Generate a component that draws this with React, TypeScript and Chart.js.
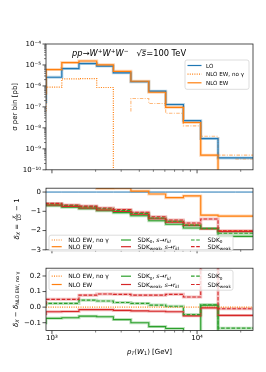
import React, { useEffect, useRef } from 'react';
import { Chart, registerables } from 'chart.js';

Chart.register(...registerables);

// ---------------- data ----------------
const binEdges = [910, 1170, 1535, 2035, 2650, 3500, 4650, 6080, 8050, 10600, 13950, 18370, 24300];
const xTickValues = [1000, 10000];
const xTickLabels = ['10³', '10⁴'];
const xMinorTickValues = [2000, 3000, 4000, 5000, 6000, 7000, 8000, 9000, 20000];

const sigmaTickValues = [1e-4, 1e-5, 1e-6, 1e-7, 1e-8, 1e-9, 1e-10];
const sigmaTickLabels = ['10⁻⁴', '10⁻⁵', '10⁻⁶', '10⁻⁷', '10⁻⁸', '10⁻⁹', '10⁻¹⁰'];
const deltaTickValues = [0, -1, -2, -3];
const deltaTickLabels = ['0', '−1', '−2', '−3'];
const diffTickValues = [0.2, 0.1, 0, -0.1];
const diffTickLabels = ['0.2', '0.1', '0.0', '−0.1'];

// top panel: sigma per bin [pb]
const sigmaLO = [1.5e-7, 2.6e-6, 6.7e-6, 1.17e-5, 8.9e-6, 4.2e-6, 1.6e-6, 5.6e-7, 1.3e-7, 2.2e-8, 3.1e-9, 3.7e-10];
const sigmaNLO = [3.9e-7, 6.0e-6, 1.3e-5, 1.55e-5, 1.02e-5, 5.0e-6, 1.67e-6, 5.0e-7, 9.5e-8, 1.8e-8, 5.0e-10, -3.3e-10];
const sigmaNLOnoPhoton = [6.2e-8, 8.7e-7, 2.15e-6, 2.25e-6, 8.4e-7, -6.0e-8, -2.5e-7, -1.45e-7, -5.0e-8, -1.25e-8, -4.0e-9, -5.0e-10];

// middle panel: delta_X = X/LO - 1
const deltaLO = [0, 0, 0, 0, 0, 0, 0, 0, 0, 0, 0, 0];
const deltaNLO = [1.57, 1.34, 0.92, 0.32, 0.19, 0.2, 0.05, -0.1, -0.29, -0.2, -1.2, -1.25];
const deltaNLOnoPhoton = [-0.57, -0.64, -0.72, -0.81, -0.91, -0.99, -1.13, -1.36, -1.53, -1.67, -1.9, -2.0];
const deltaSDK0sr = [-0.68, -0.71, -0.79, -0.87, -0.97, -1.07, -1.23, -1.49, -1.67, -1.87, -1.89, -2.3];
const deltaSDKweakSr = [-0.62, -0.67, -0.75, -0.83, -0.93, -1.01, -1.15, -1.39, -1.56, -1.73, -1.91, -2.05];
const deltaSDK0 = [-0.56, -0.62, -0.7, -0.77, -0.87, -0.96, -1.11, -1.35, -1.52, -1.72, -1.89, -2.14];
const deltaSDKweak = [-0.55, -0.59, -0.67, -0.73, -0.83, -0.91, -1.05, -1.28, -1.45, -1.61, -1.4, -2.01];

// bottom panel: delta_X - delta_NLO EW, no photon
const diffNLOnoPhoton = [0, 0, 0, 0, 0, 0, 0, 0, 0, 0, 0, 0];
const diffNLO = [2.1, 2.0, 1.6, 1.1, 1.1, 1.2, 1.2, 1.3, 1.2, 1.5, 0.7, 0.75];
const diffSDK0sr = [-0.11, -0.072, -0.068, -0.058, -0.062, -0.08, -0.1, -0.125, -0.137, -0.2, 0.012, -0.3];
const diffSDKweakSr = [-0.052, -0.03, -0.028, -0.016, -0.016, -0.021, -0.024, -0.026, -0.03, -0.056, -0.005, -0.053];
const diffSDK0 = [0.006, 0.024, 0.024, 0.045, 0.039, 0.03, 0.024, 0.013, 0.006, -0.048, 0.015, -0.135];
const diffSDKweak = [0.017, 0.05, 0.05, 0.077, 0.084, 0.082, 0.077, 0.077, 0.082, 0.065, 0.5, -0.01];

// ---------------- style ----------------
const FAM = '"DejaVu Sans", "Liberation Sans", sans-serif';
const COL = { blue: '#1f77b4', orange: '#ff7f0e', green: '#2ca02c', red: '#d62728' };
const LIGHT = {
  blue: 'rgba(31,119,180,0.3)',
  orange: 'rgba(255,127,14,0.3)',
  green: 'rgba(44,160,44,0.3)',
  red: 'rgba(214,39,40,0.3)',
};
const DOT = [1, 1.3];
const DASH = [3.6, 1.6];
const DASHDOT = [3.5, 1.4, 1, 1.4];

Chart.defaults.font.family = FAM;
Chart.defaults.color = '#000';

// ---------------- helpers ----------------
const steps = (vals: (number | null)[]) => [
  ...vals.map((v, i) => ({ x: binEdges[i], y: v })),
  { x: binEdges[vals.length], y: vals[vals.length - 1] },
];
const logPlot = (vals: number[]) => vals.map((v) => (v > 0 ? v : 1e-14));
const negAbs = (vals: number[]) => vals.map((v) => (v < 0 ? -v : null));

function line(vals: (number | null)[], color: string, dash: number[] = [], width = 1.1, order = 0) {
  return {
    data: steps(vals),
    borderColor: color,
    borderDash: dash,
    borderWidth: width,
    stepped: 'after',
    pointRadius: 0,
    fill: false,
    spanGaps: false,
    order,
  };
}
const band = (vals: (number | null)[], color: string) => line(vals, color, [], 3, 2);

type Seg = { t?: string; it?: boolean; sub?: boolean; sup?: boolean; over?: boolean; frac?: [string, string] };

function segFont(s: Seg, size: number) {
  const sz = s.sub || s.sup ? size * 0.7 : size;
  return `${s.it ? 'italic ' : ''}${sz}px ${FAM}`;
}
function segWidth(ctx: any, s: Seg, size: number) {
  if (s.frac) {
    ctx.font = `${size * 0.7}px ${FAM}`;
    return Math.max(ctx.measureText(s.frac[0]).width, ctx.measureText(s.frac[1]).width) + size * 0.3;
  }
  ctx.font = segFont(s, size);
  return ctx.measureText(s.t || '').width;
}
function drawRich(ctx: any, segs: Seg[], x: number, y: number, size: number, align: 'left' | 'center' = 'left', color = '#000') {
  const widths = segs.map((s) => segWidth(ctx, s, size));
  const total = widths.reduce((a, b) => a + b, 0);
  let cx = align === 'center' ? x - total / 2 : x;
  const base = y + size * 0.36;
  ctx.fillStyle = color;
  ctx.textAlign = 'left';
  ctx.textBaseline = 'alphabetic';
  segs.forEach((s, i) => {
    const w = widths[i];
    if (s.frac) {
      const fs = size * 0.7;
      ctx.font = `${fs}px ${FAM}`;
      const mid = base - size * 0.3;
      const n = ctx.measureText(s.frac[0]).width;
      const d = ctx.measureText(s.frac[1]).width;
      ctx.font = `italic ${fs}px ${FAM}`;
      ctx.fillText(s.frac[0], cx + (w - n) / 2, mid - fs * 0.25);
      ctx.font = `${fs}px ${FAM}`;
      ctx.fillText(s.frac[1], cx + (w - d) / 2, mid + fs * 0.9);
      ctx.fillRect(cx + size * 0.1, mid - 0.3, w - size * 0.2, 0.6);
    } else {
      ctx.font = segFont(s, size);
      const dy = s.sub ? size * 0.2 : s.sup ? -size * 0.38 : 0;
      ctx.fillText(s.t || '', cx, base + dy);
      if (s.over) ctx.fillRect(cx - 0.5, base - size * 0.82, w + 0.5, 0.6);
    }
    cx += w;
  });
}
function drawRotated(ctx: any, segs: Seg[], cx: number, cy: number, size: number) {
  ctx.save();
  ctx.translate(cx, cy);
  ctx.rotate(-Math.PI / 2);
  drawRich(ctx, segs, 0, 0, size, 'center');
  ctx.restore();
}
function legendBox(ctx: any, x: number, y: number, w: number, h: number) {
  ctx.save();
  ctx.beginPath();
  const r = 2;
  ctx.moveTo(x + r, y);
  ctx.lineTo(x + w - r, y);
  ctx.arcTo(x + w, y, x + w, y + r, r);
  ctx.lineTo(x + w, y + h - r);
  ctx.arcTo(x + w, y + h, x + w - r, y + h, r);
  ctx.lineTo(x + r, y + h);
  ctx.arcTo(x, y + h, x, y + h - r, r);
  ctx.lineTo(x, y + r);
  ctx.arcTo(x, y, x + r, y, r);
  ctx.closePath();
  ctx.fillStyle = 'rgba(255,255,255,0.8)';
  ctx.fill();
  ctx.strokeStyle = '#d4d4d4';
  ctx.lineWidth = 0.8;
  ctx.stroke();
  ctx.restore();
}
function legendItem(ctx: any, x: number, y: number, len: number, color: string, dash: number[], segs: Seg[], textX: number, size: number) {
  ctx.save();
  ctx.strokeStyle = color;
  ctx.lineWidth = 1.2;
  ctx.setLineDash(dash);
  ctx.beginPath();
  ctx.moveTo(x, y);
  ctx.lineTo(x + len, y);
  ctx.stroke();
  ctx.restore();
  drawRich(ctx, segs, textX, y, size, 'left');
}

const LBL_SDK0SR: Seg[] = [{ t: 'SDK' }, { t: '0', sub: true }, { t: ', ' }, { t: 's', it: true }, { t: '→' }, { t: 'r', it: true }, { t: 'kl', it: true, sub: true }];
const LBL_SDKWSR: Seg[] = [{ t: 'SDK' }, { t: 'weak', sub: true }, { t: ', ' }, { t: 's', it: true }, { t: '→' }, { t: 'r', it: true }, { t: 'kl', it: true, sub: true }];
const LBL_SDK0: Seg[] = [{ t: 'SDK' }, { t: '0', sub: true }];
const LBL_SDKW: Seg[] = [{ t: 'SDK' }, { t: 'weak', sub: true }];
const LBL_NOG: Seg[] = [{ t: 'NLO EW, no γ' }];
const LBL_NLO: Seg[] = [{ t: 'NLO EW' }];

function sixLegend(ctx: any, left: number, top: number, h: number, r1o: number, r2o: number) {
  const size = 6;
  legendBox(ctx, left, top, 184, h);
  const r1 = top + r1o;
  const r2 = top + r2o;
  const c = [left + 2.7, left + 72, left + 142];
  const L = 10;
  const T = 16.5;
  legendItem(ctx, c[0], r1, L, COL.orange, DOT, LBL_NOG, c[0] + T, size);
  legendItem(ctx, c[0], r2, L, COL.orange, [], LBL_NLO, c[0] + T, size);
  legendItem(ctx, c[1], r1, L, COL.green, [], LBL_SDK0SR, c[1] + T, size);
  legendItem(ctx, c[1], r2, L, COL.red, [], LBL_SDKWSR, c[1] + T, size);
  legendItem(ctx, c[2], r1, L, COL.green, DASH, LBL_SDK0, c[2] + T, size);
  legendItem(ctx, c[2], r2, L, COL.red, DASH, LBL_SDKW, c[2] + T, size);
}

type PanelOpts = {
  datasets: any[];
  yType: 'logarithmic' | 'linear';
  yMin: number;
  yMax: number;
  yTicks: number[];
  yLabels: string[];
  padTop: number;
  padBottom: number;
  showX: boolean;
  xHeight: number;
  decorate: (chart: any) => void;
};

function makeConfig(p: PanelOpts): any {
  const tickFont = { size: 7, family: FAM };
  return {
    type: 'line',
    data: { datasets: p.datasets },
    options: {
      animation: false,
      responsive: false,
      maintainAspectRatio: false,
      devicePixelRatio: 1,
      events: [],
      layout: { padding: { left: 0, right: 13, top: p.padTop, bottom: p.padBottom } },
      plugins: { legend: { display: false }, tooltip: { enabled: false }, title: { display: false } },
      scales: {
        x: {
          type: 'logarithmic',
          bounds: 'data',
          min: binEdges[0],
          max: binEdges[binEdges.length - 1],
          display: p.showX,
          grid: { display: false, drawTicks: false },
          border: { display: false },
          afterBuildTicks: (s: any) => {
            s.ticks = xTickValues.map((v) => ({ value: v }));
          },
          afterFit: (s: any) => {
            s.height = p.xHeight;
          },
          ticks: {
            autoSkip: false,
            maxRotation: 0,
            minRotation: 0,
            padding: 3,
            font: tickFont,
            color: '#000',
            callback: (_v: any, i: number) => xTickLabels[i],
          },
        },
        y: {
          type: p.yType,
          bounds: 'data',
          min: p.yMin,
          max: p.yMax,
          grid: { display: false, drawTicks: false },
          border: { display: false },
          afterBuildTicks: (s: any) => {
            s.ticks = p.yTicks.map((v) => ({ value: v }));
          },
          afterFit: (s: any) => {
            s.width = 46;
          },
          ticks: {
            autoSkip: false,
            padding: 5,
            font: tickFont,
            color: '#000',
            callback: (_v: any, i: number) => p.yLabels[i],
          },
        },
      },
    },
    plugins: [
      {
        id: 'axesDecor',
        afterDatasetsDraw(chart: any) {
          const { ctx, chartArea: a, scales } = chart;
          const xs = scales.x;
          const ys = scales.y;
          ctx.save();
          ctx.setLineDash([]);
          ctx.strokeStyle = '#262626';
          ctx.lineWidth = 0.8;
          ctx.strokeRect(a.left, a.top, a.right - a.left, a.bottom - a.top);
          ctx.beginPath();
          for (const v of xTickValues) {
            const px = xs.getPixelForValue(v);
            ctx.moveTo(px, a.bottom);
            ctx.lineTo(px, a.bottom + 3.5);
          }
          for (const v of p.yTicks) {
            const py = ys.getPixelForValue(v);
            ctx.moveTo(a.left, py);
            ctx.lineTo(a.left - 3.5, py);
          }
          ctx.stroke();
          ctx.lineWidth = 0.6;
          ctx.beginPath();
          for (const v of xMinorTickValues) {
            const px = xs.getPixelForValue(v);
            ctx.moveTo(px, a.bottom);
            ctx.lineTo(px, a.bottom + 2);
          }
          if (p.yType === 'logarithmic') {
            for (let d = -10; d < -4; d++) {
              for (let k = 2; k <= 9; k++) {
                const v = k * Math.pow(10, d);
                if (v < p.yMin || v > p.yMax) continue;
                const py = ys.getPixelForValue(v);
                ctx.moveTo(a.left, py);
                ctx.lineTo(a.left - 2, py);
              }
            }
          }
          ctx.stroke();
          ctx.restore();
        },
        afterDraw(chart: any) {
          p.decorate(chart);
        },
      },
    ],
  };
}

// ---------------- panel configs ----------------
function topConfig() {
  return makeConfig({
    datasets: [
      line(logPlot(sigmaNLO), COL.orange, [], 1.2, 0),
      line(logPlot(sigmaNLOnoPhoton), COL.orange, DOT, 1.2, 0),
      line(sigmaLO, COL.blue, [], 1.2, 0),
      line(negAbs(sigmaNLOnoPhoton), 'rgba(255,127,14,0.55)', DASHDOT, 1.1, 1),
      line(negAbs(sigmaNLO), 'rgba(255,127,14,0.55)', DASHDOT, 1.1, 1),
      band(logPlot(sigmaNLO), LIGHT.orange),
      band(sigmaLO, LIGHT.blue),
    ],
    yType: 'logarithmic',
    yMin: 1e-10,
    yMax: 1e-4,
    yTicks: sigmaTickValues,
    yLabels: sigmaTickLabels,
    padTop: 44,
    padBottom: 9,
    showX: false,
    xHeight: 0,
    decorate: (chart: any) => {
      const { ctx, chartArea: a } = chart;
      drawRich(
        ctx,
        [
          { t: 'pp', it: true },
          { t: '→' },
          { t: 'W', it: true },
          { t: '+', sup: true },
          { t: 'W', it: true },
          { t: '+', sup: true },
          { t: 'W', it: true },
          { t: '−', sup: true },
          { t: '   ' },
          { t: '√' },
          { t: 's', it: true, over: true },
          { t: '=100 TeV' },
        ],
        72,
        a.top + 9.5,
        8.3,
        'left'
      );
      drawRotated(ctx, [{ t: 'σ per bin [pb]' }], 14, (a.top + a.bottom) / 2, 7);
      const bx = 185;
      const by = a.top + 16;
      legendBox(ctx, bx, by, 64, 29.3);
      legendItem(ctx, bx + 2.5, by + 5.5, 14, COL.blue, [], [{ t: 'LO' }], bx + 21, 5.6);
      legendItem(ctx, bx + 2.5, by + 14.2, 14, COL.orange, DOT, LBL_NOG, bx + 21, 5.6);
      legendItem(ctx, bx + 2.5, by + 22.8, 14, COL.orange, [], LBL_NLO, bx + 21, 5.6);
    },
  });
}

function midConfig() {
  return makeConfig({
    datasets: [
      line(deltaSDKweak, COL.red, DASH),
      line(deltaSDK0, COL.green, DASH),
      line(deltaSDKweakSr, COL.red, []),
      line(deltaSDK0sr, COL.green, []),
      line(deltaNLO, COL.orange, []),
      line(deltaNLOnoPhoton, COL.orange, DOT),
      line(deltaLO, COL.blue, [], 1),
      band(deltaSDKweak, LIGHT.red),
      band(deltaSDK0, LIGHT.green),
      band(deltaSDKweakSr, LIGHT.red),
      band(deltaSDK0sr, LIGHT.green),
      band(deltaNLO, LIGHT.orange),
    ],
    yType: 'linear',
    yMin: -3,
    yMax: 0.2,
    yTicks: deltaTickValues,
    yLabels: deltaTickLabels,
    padTop: 9,
    padBottom: 8.5,
    showX: false,
    xHeight: 0,
    decorate: (chart: any) => {
      const { ctx, chartArea: a } = chart;
      drawRotated(
        ctx,
        [{ t: 'δ', it: true }, { t: 'X', it: true, sub: true }, { t: ' = ' }, { frac: ['X', 'LO'] }, { t: ' − 1' }],
        16.5,
        (a.top + a.bottom) / 2,
        7
      );
      sixLegend(ctx, 49, a.top + 47, 15.8, 4.8, 11.5);
    },
  });
}

function botConfig() {
  return makeConfig({
    datasets: [
      line(diffSDKweak, COL.red, DASH),
      line(diffSDK0, COL.green, DASH),
      line(diffSDKweakSr, COL.red, []),
      line(diffSDK0sr, COL.green, []),
      line(diffNLO, COL.orange, []),
      line(diffNLOnoPhoton, COL.orange, DOT),
      band(diffSDKweak, LIGHT.red),
      band(diffSDK0, LIGHT.green),
      band(diffSDKweakSr, LIGHT.red),
      band(diffSDK0sr, LIGHT.green),
    ],
    yType: 'linear',
    yMin: -0.15,
    yMax: 0.25,
    yTicks: diffTickValues,
    yLabels: diffTickLabels,
    padTop: 9,
    padBottom: 0,
    showX: true,
    xHeight: 41.5,
    decorate: (chart: any) => {
      const { ctx, chartArea: a } = chart;
      drawRotated(
        ctx,
        [{ t: 'δ', it: true }, { t: 'X', it: true, sub: true }, { t: ' − ' }, { t: 'δ', it: true }, { t: 'NLO EW, no γ', sub: true }],
        15,
        (a.top + a.bottom) / 2,
        7
      );
      sixLegend(ctx, 49, a.top + 2, 20, 6, 14.3);
      drawRich(
        ctx,
        [{ t: 'p', it: true }, { t: 'T', it: true, sub: true }, { t: '(' }, { t: 'W', it: true }, { t: '1', sub: true }, { t: ') [GeV]' }],
        (a.left + a.right) / 2,
        a.bottom + 20.5,
        7,
        'center'
      );
    },
  });
}

export default function App() {
  const r1 = useRef<HTMLCanvasElement>(null);
  const r2 = useRef<HTMLCanvasElement>(null);
  const r3 = useRef<HTMLCanvasElement>(null);

  useEffect(() => {
    const charts = [
      new Chart(r1.current as HTMLCanvasElement, topConfig()),
      new Chart(r2.current as HTMLCanvasElement, midConfig()),
      new Chart(r3.current as HTMLCanvasElement, botConfig()),
    ];
    return () => charts.forEach((c) => c.destroy());
  }, []);

  const cs = (top: number, h: number): React.CSSProperties => ({ position: 'absolute', left: 0, top, width: 266, height: h, display: 'block' });

  return (
    <div style={{ position: 'fixed', left: 0, top: 0, width: 266, height: 372, background: '#ffffff' }}>
      <canvas ref={r1} width={266} height={179} style={cs(0, 179)} />
      <canvas ref={r2} width={266} height={80} style={cs(179, 80)} />
      <canvas ref={r3} width={266} height={113} style={cs(259, 113)} />
    </div>
  );
}
